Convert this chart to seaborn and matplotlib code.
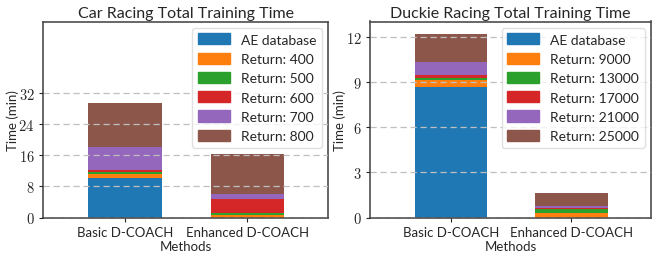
import numpy as np
import matplotlib
matplotlib.use('Agg')
import matplotlib.pyplot as plt
from matplotlib.patches import Patch
import seaborn as sns

# Datos (minutos)
metodos = ['Basic D-COACH', 'Enhanced D-COACH']

car_etiquetas = ['AE database', 'Return: 400', 'Return: 500', 'Return: 600',
                 'Return: 700', 'Return: 800']
car_basic = [10.1, 1.0, 0.5, 0.5, 5.9, 11.3]
car_enhanced = [0.0, 0.7, 0.5, 3.6, 1.2, 10.2]

duckie_etiquetas = ['AE database', 'Return: 9000', 'Return: 13000', 'Return: 17000',
                    'Return: 21000', 'Return: 25000']
duckie_basic = [8.66, 0.46, 0.13, 0.20, 0.87, 1.86]
duckie_enhanced = [0.0, 0.29, 0.27, 0.05, 0.15, 0.88]

car_ticks = [0, 8, 16, 24, 32]
duckie_ticks = [0, 3, 6, 9, 12]

sns.set_style('white')
plt.rcParams['font.family'] = ['Lato', 'DejaVu Sans']
plt.rcParams['mathtext.fontset'] = 'cm'

colores = sns.color_palette('tab10', 6)

fig = plt.figure(figsize=(6.52, 2.55), dpi=100)
ax1 = fig.add_axes([43 / 652, 1 - 218.5 / 255, 285 / 652, 196 / 255])
ax2 = fig.add_axes([370 / 652, 1 - 218.5 / 255, 281 / 652, 196 / 255])


def dibujar(ax, titulo, etiquetas, basic, enhanced, ticks, ymax):
    acum_b = np.cumsum(basic)
    acum_e = np.cumsum(enhanced)
    # barras apiladas: se dibuja primero el acumulado mayor
    for i in range(len(etiquetas) - 1, -1, -1):
        sns.barplot(x=metodos, y=[acum_b[i], acum_e[i]], color=colores[i],
                    saturation=1, width=0.6, linewidth=0, ax=ax)
    ax.set_xlim(-0.67, 1.66)
    ax.set_ylim(0, ymax)
    ax.set_yticks(ticks, labels=[f'${t}$' for t in ticks])
    ax.yaxis.grid(True, linestyle=(0, (5, 3)), color='0.75', linewidth=0.9)
    ax.set_axisbelow(False)
    ax.tick_params(axis='both', labelsize=10.5, length=3, width=0.8,
                   direction='out', left=True, bottom=True, pad=3)
    ax.tick_params(axis='x', labelsize=9.5)
    for s in ax.spines.values():
        s.set_color('0.3')
        s.set_linewidth(1.2)
    ax.set_title(titulo, fontsize=11.5, pad=3)
    ax.set_xlabel('Methods', fontsize=9.5, labelpad=1.5)
    ax.set_ylabel('Time (min)', fontsize=9.5)
    ax.yaxis.set_label_coords(-0.085, 0.5)
    handles = [Patch(color=colores[i], label=etiquetas[i]) for i in range(len(etiquetas))]
    ax.legend(handles=handles, loc='upper right', fontsize=10, frameon=True,
              handlelength=2.3, handleheight=0.85, labelspacing=0.5,
              borderaxespad=0.45, framealpha=0.8, edgecolor='0.85')


dibujar(ax1, 'Car Racing Total Training Time', car_etiquetas, car_basic,
        car_enhanced, car_ticks, 50.3)
dibujar(ax2, 'Duckie Racing Total Training Time', duckie_etiquetas, duckie_basic,
        duckie_enhanced, duckie_ticks, 13.0)

fig.savefig('out.png', dpi=100)
